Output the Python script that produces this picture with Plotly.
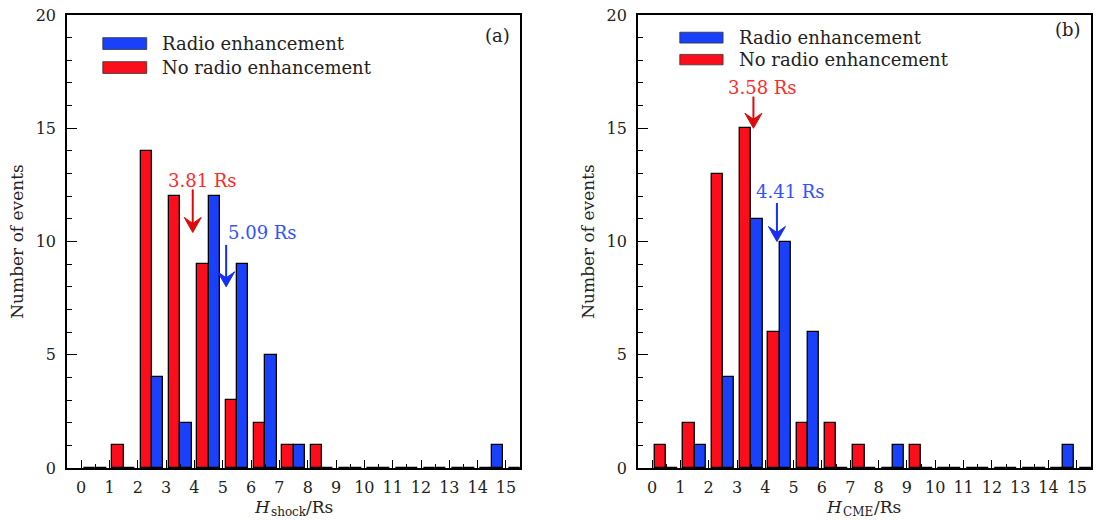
import plotly.graph_objects as go

# ---------------- data ----------------
bins = list(range(16))
# panel (a): H_shock
shock_radio    = [0, 0, 4, 2, 12, 9, 5, 1, 0, 0, 0, 0, 0, 0, 1, 0]
shock_noradio  = [0, 1, 14, 12, 9, 3, 2, 1, 1, 0, 0, 0, 0, 0, 0, 0]
# panel (b): H_CME
cme_radio      = [0, 1, 4, 11, 10, 6, 0, 0, 1, 0, 0, 0, 0, 0, 1, 0]
cme_noradio    = [1, 2, 13, 15, 6, 2, 2, 1, 0, 1, 0, 0, 0, 0, 0, 0]

xtick_labels = [str(i) for i in bins]
series_names = ["Radio enhancement", "No radio enhancement"]
panel_labels = ["(a)", "(b)"]
x_title_subs = ["shock", "CME"]          # H_<sub>/Rs
y_title = "Number of events"

# mean markers: (label, arrow x, tail y, tip y, text x, text y, colour)
means_a = [("3.81 Rs", 3.94, 12.3, 10.4, 4.3, 12.7, "red"),
           ("5.09 Rs", 5.12, 9.85, 8.0, 6.4, 10.4, "blue")]
means_b = [("3.58 Rs", 3.58, 16.4, 15.0, 3.9, 16.8, "red"),
           ("4.41 Rs", 4.41, 11.7, 10.0, 4.9, 12.2, "blue")]

# ---------------- style ----------------
RED = "#fc0d1b"
BLUE = "#1941fb"
RED_ARROW = "#dc0a0a"
BLUE_ARROW = "#1530f0"
RED_TXT = "#ff2a2a"
BLUE_TXT = "#3352ff"
FONT = "DejaVu Serif"
TXT = "#222"

fig = go.Figure()

def add_panel(radio, noradio, xa, ya):
    fig.add_trace(go.Bar(x=bins, y=noradio, width=0.4, offset=0.1,
                         marker=dict(color=RED, line=dict(color="black", width=1.3)),
                         xaxis=xa, yaxis=ya, showlegend=False))
    fig.add_trace(go.Bar(x=bins, y=radio, width=0.4, offset=0.5,
                         marker=dict(color=BLUE, line=dict(color="black", width=1.3)),
                         xaxis=xa, yaxis=ya, showlegend=False))

add_panel(shock_radio, shock_noradio, "x", "y")
add_panel(cme_radio, cme_noradio, "x2", "y2")

axis_common = dict(showline=True, mirror=True, linecolor="black", linewidth=1.5,
                   showgrid=False, zeroline=False, ticks="inside", tickcolor="black",
                   tickfont=dict(family=FONT, size=16, color=TXT))

xax = dict(axis_common, range=[-0.5, 15.5], tickmode="array", tickvals=bins,
           ticktext=xtick_labels, ticklen=8, tickwidth=1.3,
           minor=dict(ticks="inside", tickvals=[b + 0.5 for b in bins[:-1]],
                      ticklen=4, tickwidth=1.1, tickcolor="black"),
           ticklabelstandoff=4)
yax = dict(axis_common, range=[0, 20], tickmode="linear", tick0=0, dtick=5,
           ticklen=10, tickwidth=1.3,
           minor=dict(ticks="inside", dtick=1, tick0=0, ticklen=5, tickwidth=1.1,
                      tickcolor="black"),
           ticklabelstandoff=6,
           title=dict(text=y_title, font=dict(family=FONT, size=17, color=TXT),
                      standoff=8))

fig.update_layout(
    width=1096, height=520,
    margin=dict(l=67, r=3, t=15, b=52),
    paper_bgcolor="white", plot_bgcolor="white",
    barmode="overlay", bargap=0,
    xaxis=dict(xax, domain=[0, 0.4425], anchor="y"),
    yaxis=dict(yax, domain=[0, 1], anchor="x"),
    xaxis2=dict(xax, domain=[0.5575, 1], anchor="y2"),
    yaxis2=dict(yax, domain=[0, 1], anchor="x2"),
    font=dict(family=FONT),
)

shapes = []
annotations = []

def legend(xs, ys, xr, yr, panel_label):
    colors = [BLUE, RED]
    for i, (name, c) in enumerate(zip(series_names, colors)):
        top, bot = ys[i]
        shapes.append(dict(type="rect", xref=xr + " domain", yref=yr + " domain",
                           x0=xs[0], x1=xs[1], y0=bot, y1=top,
                           fillcolor=c, line=dict(color="#333", width=0.8)))
        annotations.append(dict(xref=xr + " domain", yref=yr + " domain",
                                x=xs[2], y=(top + bot) / 2, text=name, showarrow=False,
                                xanchor="left", yanchor="middle",
                                font=dict(family=FONT, size=18, color=TXT)))
    annotations.append(dict(xref=xr + " domain", yref=yr + " domain",
                            x=0.982, y=ys[0][0] + 0.005, text=panel_label, showarrow=False,
                            xanchor="right", yanchor="middle",
                            font=dict(family=FONT, size=18, color=TXT)))

legend((0.079, 0.176, 0.205), [(0.950, 0.924), (0.897, 0.871)], "x", "y", panel_labels[0])
legend((0.0925, 0.188, 0.219), [(0.962, 0.938), (0.913, 0.890)], "x2", "y2", panel_labels[1])

# x-axis titles  H_sub/Rs  built from three pieces
def x_title(xr, sub, sub_w):
    h_w, rs_w = 13, 27
    total = h_w + sub_w + rs_w
    left = -total / 2
    common = dict(xref=xr + " domain", yref="paper", x=0.5, y=0, showarrow=False,
                  yanchor="middle")
    annotations.append(dict(common, text="<i>H</i>", xanchor="right",
                            xshift=left + h_w + 4, yshift=-39,
                            font=dict(family=FONT, size=17, color=TXT)))
    annotations.append(dict(common, text=sub, xanchor="left",
                            xshift=left + h_w, yshift=-44,
                            font=dict(family=FONT, size=12, color=TXT)))
    annotations.append(dict(common, text="/Rs", xanchor="left",
                            xshift=left + h_w + sub_w - 1, yshift=-39,
                            font=dict(family=FONT, size=17, color=TXT)))

x_title("x", x_title_subs[0], 36)
x_title("x2", x_title_subs[1], 32)

# concave arrow head, in pixels relative to the tip (positive y is up)
HEAD = "M0,0 L-8.5,15 L0,9 L8.5,15 Z"

def means(items, xr, yr):
    for label, ax_, tail, tip, tx, ty, col in items:
        acol = RED_ARROW if col == "red" else BLUE_ARROW
        tcol = RED_TXT if col == "red" else BLUE_TXT
        shapes.append(dict(type="line", xref=xr, yref=yr, x0=ax_, x1=ax_,
                           y0=tail, y1=tip + 0.25, line=dict(color=acol, width=2)))
        shapes.append(dict(type="path", xref=xr, yref=yr,
                           xsizemode="pixel", ysizemode="pixel",
                           xanchor=ax_, yanchor=tip, path=HEAD,
                           fillcolor=acol, line=dict(color=acol, width=1)))
        annotations.append(dict(xref=xr, yref=yr, x=tx, y=ty, text=label,
                                showarrow=False, xanchor="center", yanchor="middle",
                                font=dict(family=FONT, size=18, color=tcol)))

means(means_a, "x", "y")
means(means_b, "x2", "y2")

fig.update_layout(shapes=shapes, annotations=annotations)
fig.write_html("out.html")
